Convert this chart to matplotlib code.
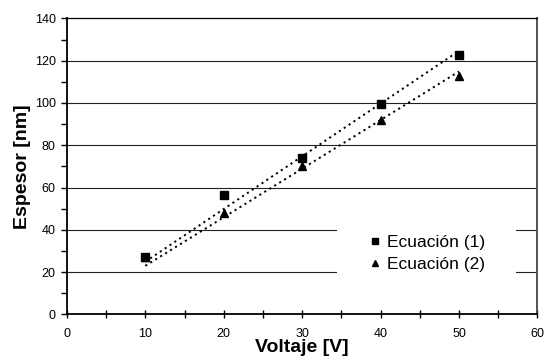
import numpy as np
import matplotlib
matplotlib.use("Agg")
import matplotlib.pyplot as plt
from matplotlib.ticker import MultipleLocator

plt.rcParams['font.family'] = ['Liberation Sans', 'DejaVu Sans']

voltaje = [10, 20, 30, 40, 50]
ecuacion1 = [27.3, 56.3, 73.9, 99.3, 122.5]
ecuacion2 = [27.0, 47.8, 70.3, 91.9, 112.6]

fig = plt.figure(figsize=(5.44, 3.61), dpi=100)
ax = fig.add_axes([0.123, 0.129, 0.865, 0.820])

# horizontal grid lines
for yv in range(20, 140, 20):
    ax.axhline(yv, color='#222222', lw=0.8, zorder=0)

# trend lines through origin
xs = np.array(voltaje, dtype=float)
for ys in (ecuacion1, ecuacion2):
    ys = np.array(ys)
    m = np.sum(xs * ys) / np.sum(xs * xs)
    ax.plot([10, 50], [m * 10, m * 50], color='black', lw=1.4,
            linestyle=(0, (1.1, 1.9)), zorder=2)

ax.plot(voltaje, ecuacion2, linestyle='none', marker='^', color='black',
        markersize=6, label='Ecuación (2)', zorder=3)
ax.plot(voltaje, ecuacion1, linestyle='none', marker='s', color='black',
        markersize=5.5, label='Ecuación (1)', zorder=3)

ax.set_xlim(0, 60)
ax.set_ylim(0, 140)
ax.xaxis.set_major_locator(MultipleLocator(10))
ax.xaxis.set_minor_locator(MultipleLocator(5))
ax.yaxis.set_major_locator(MultipleLocator(20))
ax.yaxis.set_minor_locator(MultipleLocator(10))
ax.tick_params(axis='x', which='both', direction='inout', length=6, width=1,
               labelsize=9, pad=7)
ax.tick_params(axis='y', which='both', direction='out', length=4, width=1,
               labelsize=9, pad=4)

for side in ('left', 'bottom'):
    ax.spines[side].set_linewidth(1.3)
ax.spines['top'].set_linewidth(0.9)
ax.spines['right'].set_linewidth(1.3)
ax.spines['right'].set_color('#444444')

ax.set_xlabel('Voltaje [V]', fontsize=14, fontweight='bold', labelpad=-1)
ax.set_ylabel('Espesor [nm]', fontsize=14, fontweight='bold', labelpad=3)

handles, labels = ax.get_legend_handles_labels()
leg = ax.legend(handles[::-1], labels[::-1], loc='center',
                bbox_to_anchor=(0.765, 0.207), frameon=True, fancybox=False,
                edgecolor='none', facecolor='white', framealpha=1,
                fontsize=12.5, markerscale=0.7, handlelength=0.7,
                handletextpad=0.35, borderpad=1.8, borderaxespad=0,
                labelspacing=0.4)
leg.set_zorder(5)

fig.savefig('out.png', dpi=100)
